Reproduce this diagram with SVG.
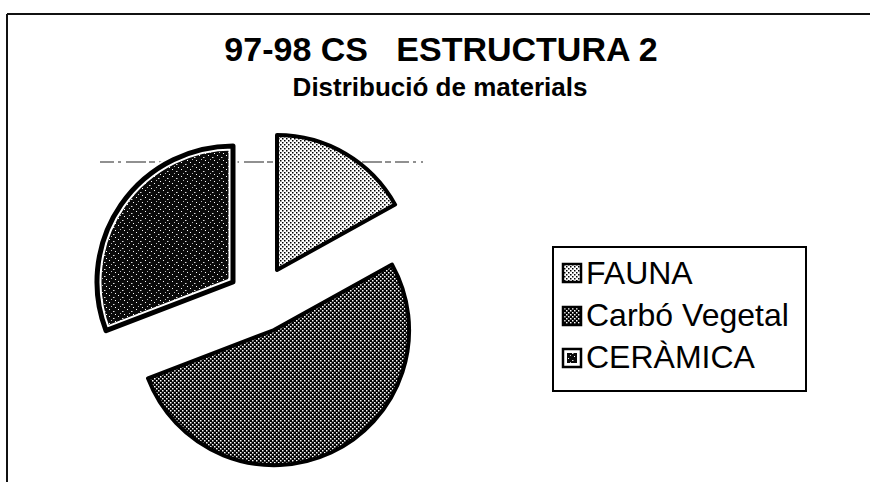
<svg xmlns="http://www.w3.org/2000/svg" width="870" height="482" viewBox="0 0 870 482">
<style>
.title{font-family:"Liberation Sans",Arial,sans-serif;font-weight:bold;fill:#000;white-space:pre}
.leg{font-family:"Liberation Sans",Arial,sans-serif;font-size:32px;fill:#000}
.edge{stroke:#000;stroke-width:4;stroke-linejoin:round}
.frame{stroke:#111;stroke-width:2;fill:none}
</style>
<defs>
<pattern id="pFauna" width="4" height="4" patternUnits="userSpaceOnUse">
<rect width="4" height="4" fill="#fff"/>
<rect x="0" y="0" width="1.5" height="1.5" fill="#000"/>
<rect x="2" y="2" width="1.5" height="1.5" fill="#000"/>
</pattern>
<pattern id="pCarbo" width="4" height="4" patternUnits="userSpaceOnUse">
<rect width="4" height="4" fill="#000"/>
<rect x="0" y="0" width="1.5" height="1.5" fill="#fff"/>
<rect x="2" y="2" width="1.5" height="1.5" fill="#fff"/>
</pattern>
<pattern id="pCeram" width="9" height="7" patternUnits="userSpaceOnUse">
<rect width="9" height="7" fill="#0a0a0a"/>
<rect x="1" y="1" width="1" height="1" fill="#fff"/>
<rect x="5" y="3" width="1.5" height="1" fill="#ddd"/>
<rect x="7" y="6" width="1" height="1" fill="#fff"/>
<rect x="3" y="5" width="1" height="1" fill="#bbb"/>
</pattern>
</defs>

<g id="frame">
<line class="frame" x1="7" y1="14" x2="870" y2="14"/>
<line class="frame" x1="7" y1="14" x2="7" y2="482"/>
<line x1="100" y1="162" x2="423" y2="162" stroke="#222" stroke-width="1.2" stroke-dasharray="14 4 3 5 20 3 6 4"/>
</g>

<g id="titles">
<text class="title" x="441" y="61" font-size="34" text-anchor="middle" xml:space="preserve">97-98 CS   ESTRUCTURA 2</text>
<text class="title" x="440" y="96" font-size="26" text-anchor="middle">Distribució de materials</text>
</g>

<g id="slice-fauna">
<path class="edge" fill="url(#pFauna)" d="M277,270 L277,135 A135,135 0 0 1 395.1,204.6 Z"/>
</g>
<g id="slice-carbo">
<path class="edge" fill="url(#pCarbo)" d="M274,330 L392.1,264.6 A135,135 0 1 1 148,378.4 Z"/>
</g>
<g id="slice-ceramica">
<path d="M233,282 L106,330.7 A136,136 0 0 1 233,146 Z" fill="url(#pCeram)" stroke="#fff" stroke-width="9" stroke-linejoin="round"/>
<path d="M233,282 L106,330.7 A136,136 0 0 1 233,146 Z" fill="none" stroke="#000" stroke-width="5" stroke-linejoin="round"/>
</g>

<g id="legend">
<rect x="553" y="247" width="253" height="144" fill="#fff" stroke="#000" stroke-width="2"/>
<g id="leg-fauna">
<rect x="563" y="264" width="18" height="18" fill="url(#pFauna)" stroke="#000" stroke-width="2.5"/>
<text class="leg" x="586" y="284">FAUNA</text>
</g>
<g id="leg-carbo">
<rect x="563" y="307" width="18" height="18" fill="url(#pCarbo)" stroke="#000" stroke-width="2.5"/>
<text class="leg" x="586" y="326">Carbó Vegetal</text>
</g>
<g id="leg-ceramica">
<rect x="563" y="349" width="18" height="18" fill="#fff" stroke="#000" stroke-width="2.5"/>
<rect x="567" y="353" width="10" height="10" fill="url(#pCeram)"/>
<text class="leg" x="586" y="368">CERÀMICA</text>
</g>
</g>
</svg>
